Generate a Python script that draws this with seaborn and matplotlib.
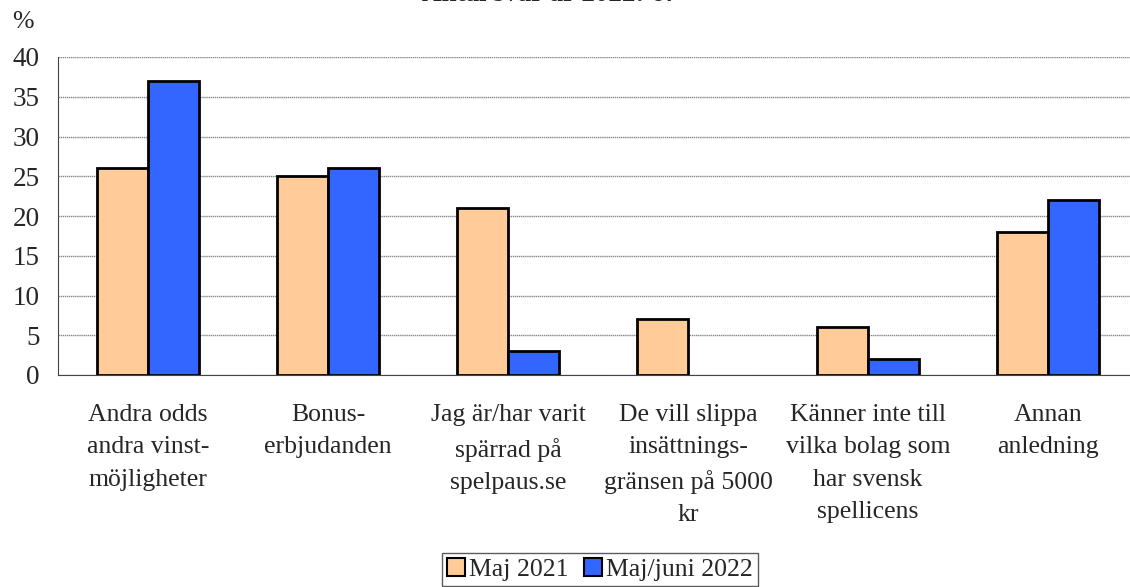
import matplotlib
matplotlib.use("Agg")
import matplotlib.pyplot as plt
import seaborn as sns
import pandas as pd
from matplotlib.patches import Patch

categories = [
    "Andra odds\nandra vinst-\nmöjligheter",
    "Bonus-\nerbjudanden",
    "Jag är/har varit\nspärrad på\nspelpaus.se",
    "De vill slippa\ninsättnings-\ngränsen på 5000\nkr",
    "Känner inte till\nvilka bolag som\nhar svensk\nspellicens",
    "Annan\nanledning",
]
series = ["Maj 2021", "Maj/juni 2022"]
values_2021 = [26, 25, 21, 7, 6, 18]
values_2022 = [37, 26, 3, 0, 2, 22]
colors = ["#FFCC99", "#3366FF"]
yticks = [0, 5, 10, 15, 20, 25, 30, 35, 40]

df = pd.DataFrame({
    "kategori": categories * 2,
    "serie": [series[0]] * len(categories) + [series[1]] * len(categories),
    "andel": values_2021 + values_2022,
})

sns.set_style("white")
plt.rcParams["font.family"] = ["Liberation Serif", "DejaVu Serif"]
fs = 18.5

fig = plt.figure(figsize=(11.3, 5.87), dpi=100)
ax = fig.add_axes([58 / 1130, 1 - 375 / 587, 1080 / 1130, 318 / 587])

sns.barplot(data=df, x="kategori", y="andel", hue="serie", palette=colors,
            width=0.57, gap=0, edgecolor="black", linewidth=2, saturation=1,
            legend=False, ax=ax)

# bars with zero height should not leave an outline
for bar in ax.patches:
    if bar.get_height() == 0:
        bar.set_visible(False)

ax.set_ylim(0, 40)
ax.set_xlim(-0.5, len(categories) - 0.5)
ax.set_yticks(yticks)
ax.set_yticklabels([str(t) for t in yticks], fontsize=19.5)
ax.yaxis.grid(True, color="#888888", linewidth=1, linestyle=(0, (1, 0.5)))
ax.set_axisbelow(True)
ax.set_xlabel("")
ax.set_ylabel("")

ax.set_xticks(range(len(categories)))
ax.set_xticklabels(categories, fontsize=fs, linespacing=1.6, va="top")
ax.tick_params(axis="x", which="major", length=0, pad=21)
ax.set_xticks([i - 0.5 for i in range(len(categories) + 1)], minor=True)
ax.tick_params(axis="x", which="minor", length=8, width=1, color="#444444",
               direction="out")
ax.tick_params(axis="y", length=6, width=1, color="#444444", direction="out", pad=7)

for side in ["top", "right"]:
    ax.spines[side].set_visible(False)
ax.spines["left"].set_color("#444444")
ax.spines["bottom"].set_color("#444444")

fig.text(12 / 1130, 1 - 22 / 587, "%", fontsize=fs, va="center", ha="left")
fig.text(550 / 1130, 1 - 1 / 587, "Antal svar år 2022: 67", fontsize=19.5,
         fontweight="bold", ha="center", va="baseline")

handles = [Patch(facecolor=c, edgecolor="black", linewidth=1.5) for c in colors]
leg = fig.legend(handles, series, loc="upper center",
                 bbox_to_anchor=(600 / 1130, 1 - 553 / 587), ncol=2,
                 fontsize=fs, frameon=True, fancybox=False, borderpad=0.2,
                 handlelength=0.7, handleheight=0.7, handletextpad=0.15,
                 columnspacing=0.6, borderaxespad=0)
leg.get_frame().set_edgecolor("#333333")
leg.get_frame().set_linewidth(1)

fig.savefig("out.png", dpi=100)
